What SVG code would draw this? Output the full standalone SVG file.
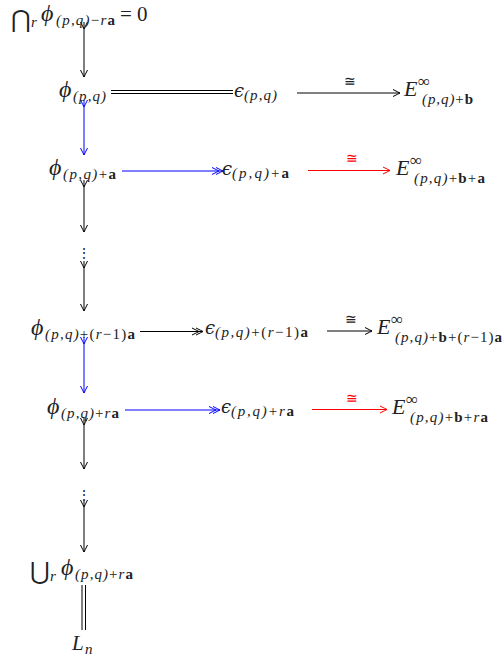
<svg xmlns="http://www.w3.org/2000/svg" width="504" height="659" viewBox="0 0 504 659">
<style>
text{font-family:"Liberation Serif","DejaVu Serif",serif;fill:#222}
.m{font-size:21px;font-style:italic}
.ph{font-size:24px;font-style:italic}
.s{font-size:15px}
.i{font-style:italic}
.bf{font-weight:bold;font-style:normal}
.up{font-style:normal}
.big{font-family:"DejaVu Sans",sans-serif;font-size:24px;font-weight:200}
.cong{font-size:14px;font-family:"DejaVu Serif",serif;text-anchor:middle}
line{stroke-width:1}
.k{stroke:#000}
.b{stroke:#0000ff}
.r{stroke:#ff0000}
.ep{font-size:18px;font-style:italic;font-family:"DejaVu Serif",serif}
.E{font-size:22px}
.inf{font-size:17px;font-style:normal}
</style>
<defs>
<marker id="hk" viewBox="-8 -5 9 10" markerWidth="9" markerHeight="10" refX="0" refY="0" orient="auto" markerUnits="userSpaceOnUse"><path d="M-7,-3.5 Q-2,-1 0,0 Q-2,1 -7,3.5" fill="none" stroke="#000"/></marker>
<marker id="hb" viewBox="-8 -5 9 10" markerWidth="9" markerHeight="10" refX="0" refY="0" orient="auto" markerUnits="userSpaceOnUse"><path d="M-7,-3.5 Q-2,-1 0,0 Q-2,1 -7,3.5" fill="none" stroke="#0000ff"/></marker>
<marker id="hr" viewBox="-8 -5 9 10" markerWidth="9" markerHeight="10" refX="0" refY="0" orient="auto" markerUnits="userSpaceOnUse"><path d="M-7,-3.5 Q-2,-1 0,0 Q-2,1 -7,3.5" fill="none" stroke="#ff0000"/></marker>
<marker id="tk" viewBox="-1 -5 9 10" markerWidth="9" markerHeight="10" refX="0" refY="0" orient="auto" markerUnits="userSpaceOnUse"><path d="M0,-3.5 Q5,-1 7,0 Q5,1 0,3.5" fill="none" stroke="#000"/></marker>
<marker id="tb" viewBox="-1 -5 9 10" markerWidth="9" markerHeight="10" refX="0" refY="0" orient="auto" markerUnits="userSpaceOnUse"><path d="M0,-3.5 Q5,-1 7,0 Q5,1 0,3.5" fill="none" stroke="#0000ff"/></marker>
<marker id="dk" viewBox="-12 -5 13 10" markerWidth="13" markerHeight="10" refX="0" refY="0" orient="auto" markerUnits="userSpaceOnUse"><path d="M-7,-3.5 Q-2,-1 0,0 Q-2,1 -7,3.5 M-11,-3.5 Q-6,-1 -4,0 Q-6,1 -11,3.5" fill="none" stroke="#000"/></marker>
<marker id="db" viewBox="-12 -5 13 10" markerWidth="13" markerHeight="10" refX="0" refY="0" orient="auto" markerUnits="userSpaceOnUse"><path d="M-7,-3.5 Q-2,-1 0,0 Q-2,1 -7,3.5 M-11,-3.5 Q-6,-1 -4,0 Q-6,1 -11,3.5" fill="none" stroke="#0000ff"/></marker>
</defs>

<g id="connectors">
<line class="k" x1="84" y1="22" x2="84" y2="77" marker-start="url(#tk)" marker-end="url(#hk)"/>
<line class="b" x1="84" y1="100" x2="84" y2="155" marker-start="url(#tb)" marker-end="url(#hb)"/>
<line class="k" x1="84" y1="180" x2="84" y2="232" marker-start="url(#tk)" marker-end="url(#hk)"/>
<line class="k" x1="84" y1="261" x2="84" y2="311" marker-start="url(#tk)" marker-end="url(#hk)"/>
<line class="b" x1="84" y1="337" x2="84" y2="393" marker-start="url(#tb)" marker-end="url(#hb)"/>
<line class="k" x1="84" y1="418" x2="84" y2="469" marker-start="url(#tk)" marker-end="url(#hk)"/>
<line class="k" x1="84" y1="500" x2="84" y2="552" marker-start="url(#tk)" marker-end="url(#hk)"/>
<line class="k" x1="82" y1="585" x2="82" y2="630"/>
<line class="k" x1="85.5" y1="585" x2="85.5" y2="630"/>
<line class="k" x1="111" y1="90.5" x2="233" y2="90.5"/>
<line class="k" x1="111" y1="93.5" x2="233" y2="93.5"/>
<line class="k" x1="297" y1="93" x2="400" y2="93" marker-end="url(#hk)"/>
<text class="cong" x="350" y="86">≅</text>
<line class="b" x1="122" y1="171" x2="223" y2="171" marker-end="url(#db)"/>
<line class="r" x1="308" y1="170.5" x2="390" y2="170.5" marker-end="url(#hr)"/>
<text class="cong" x="352" y="163" style="fill:#ff0000">≅</text>
<line class="k" x1="140" y1="331.5" x2="203" y2="331.5" marker-end="url(#dk)"/>
<line class="k" x1="327" y1="331" x2="372" y2="331" marker-end="url(#hk)"/>
<text class="cong" x="351" y="324">≅</text>
<line class="b" x1="125" y1="410" x2="220" y2="410" marker-end="url(#db)"/>
<line class="r" x1="312" y1="409.5" x2="387" y2="409.5" marker-end="url(#hr)"/>
<text class="cong" x="352" y="403" style="fill:#ff0000">≅</text>
</g>

<g id="n-top">
<text class="big" x="11" y="27">⋂</text>
<text class="s i" x="31" y="27">r</text>
<text class="ph" x="41" y="21">ϕ</text>
<text class="s i" x="56" y="25" textLength="59" lengthAdjust="spacing">(p,q)<tspan class="up">−</tspan>r<tspan class="bf">a</tspan></text>
<text class="m up" x="120" y="21">= 0</text>
</g>

<g id="n-phi0">
<text class="ph" x="59" y="97">ϕ</text>
<text class="s i" x="73" y="101" textLength="33" lengthAdjust="spacing">(p,q)</text>
</g>
<g id="n-eps0">
<text class="ep" x="234" y="97">ϵ</text>
<text class="s i" x="244" y="100" textLength="33" lengthAdjust="spacing">(p,q)</text>
</g>
<g id="n-E0">
<text class="m E" x="404" y="96">E</text>
<text class="inf" x="418" y="87">∞</text>
<text class="s i" x="422" y="104" textLength="51" lengthAdjust="spacing">(p,q)<tspan class="up">+</tspan><tspan class="bf">b</tspan></text>
</g>

<g id="n-phi1">
<text class="ph" x="49" y="175">ϕ</text>
<text class="s i" x="63" y="179" textLength="53" lengthAdjust="spacing">(p,q)<tspan class="up">+</tspan><tspan class="bf">a</tspan></text>
</g>
<g id="n-eps1">
<text class="ep" x="222" y="175">ϵ</text>
<text class="s i" x="232" y="178" textLength="57" lengthAdjust="spacing">(p,q)<tspan class="up">+</tspan><tspan class="bf">a</tspan></text>
</g>
<g id="n-E1">
<text class="m E" x="396" y="175">E</text>
<text class="inf" x="410" y="166">∞</text>
<text class="s i" x="414" y="183" textLength="71" lengthAdjust="spacing">(p,q)<tspan class="up">+</tspan><tspan class="bf">b</tspan><tspan class="up">+</tspan><tspan class="bf">a</tspan></text>
</g>

<g id="n-dots1">
<text class="up" x="84" y="258" style="font-size:14px;text-anchor:middle">⋮</text>
</g>

<g id="n-phi2">
<text class="ph" x="31" y="335">ϕ</text>
<text class="s i" x="45" y="339" textLength="90" lengthAdjust="spacing">(p,q)<tspan class="up">+(</tspan>r<tspan class="up">−1)</tspan><tspan class="bf">a</tspan></text>
</g>
<g id="n-eps2">
<text class="ep" x="205" y="334">ϵ</text>
<text class="s i" x="215" y="337" textLength="93" lengthAdjust="spacing">(p,q)<tspan class="up">+(</tspan>r<tspan class="up">−1)</tspan><tspan class="bf">a</tspan></text>
</g>
<g id="n-E2">
<text class="m E" x="377" y="334">E</text>
<text class="inf" x="391" y="325">∞</text>
<text class="s i" x="395" y="342" textLength="107" lengthAdjust="spacing">(p,q)<tspan class="up">+</tspan><tspan class="bf">b</tspan><tspan class="up">+(</tspan>r<tspan class="up">−1)</tspan><tspan class="bf">a</tspan></text>
</g>

<g id="n-phi3">
<text class="ph" x="47" y="414">ϕ</text>
<text class="s i" x="61" y="418" textLength="58" lengthAdjust="spacing">(p,q)<tspan class="up">+</tspan>r<tspan class="bf">a</tspan></text>
</g>
<g id="n-eps3">
<text class="ep" x="221" y="413">ϵ</text>
<text class="s i" x="231" y="416" textLength="63" lengthAdjust="spacing">(p,q)<tspan class="up">+</tspan>r<tspan class="bf">a</tspan></text>
</g>
<g id="n-E3">
<text class="m E" x="392" y="414">E</text>
<text class="inf" x="406" y="405">∞</text>
<text class="s i" x="410" y="422" textLength="78" lengthAdjust="spacing">(p,q)<tspan class="up">+</tspan><tspan class="bf">b</tspan><tspan class="up">+</tspan>r<tspan class="bf">a</tspan></text>
</g>

<g id="n-dots2">
<text class="up" x="84" y="500" style="font-size:14px;text-anchor:middle">⋮</text>
</g>

<g id="n-union">
<text class="big" x="30" y="579">⋃</text>
<text class="s i" x="50" y="581">r</text>
<text class="ph" x="61" y="575">ϕ</text>
<text class="s i" x="75" y="579" textLength="58" lengthAdjust="spacing">(p,q)<tspan class="up">+</tspan>r<tspan class="bf">a</tspan></text>
</g>

<g id="n-L">
<text class="m" x="72" y="650">L</text>
<text class="s i" x="85" y="654">n</text>
</g>
</svg>
